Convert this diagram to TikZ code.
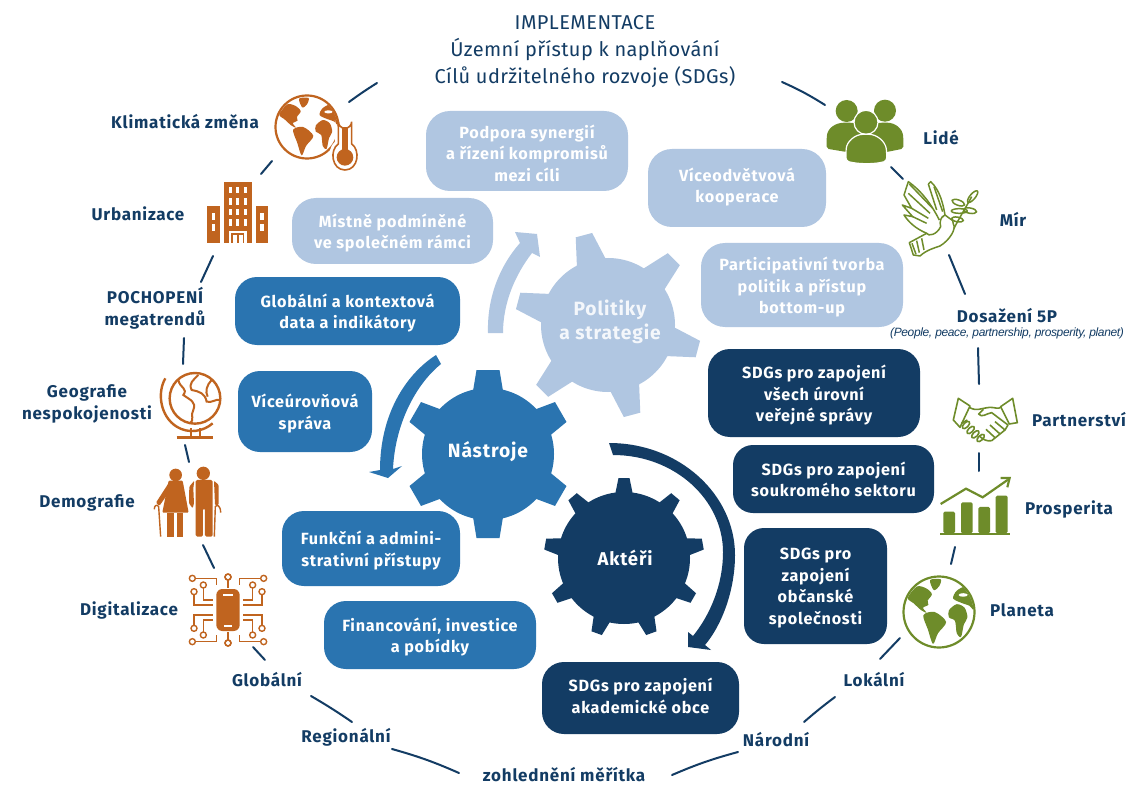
\documentclass[tikz,border=0pt]{standalone}
\usepackage{fontspec}
\setmainfont{Fira Sans}[LetterSpace=2,BoldFeatures={LetterSpace=4.5}]
\newfontfamily\smallit{Liberation Sans}[LetterSpace=-3]
\usetikzlibrary{calc}
\definecolor{lightb}{HTML}{B0C6E1}
\definecolor{midb}{HTML}{2A74B0}
\definecolor{darkb}{HTML}{133C64}
\definecolor{orng}{HTML}{C0641F}
\definecolor{grn}{HTML}{6E8C2A}
\definecolor{ptext}{HTML}{F4F7FB}
\tikzset{
 x=1pt,y=-1pt,
 pill/.style={inner sep=0pt},
 pilltxt/.style={inner sep=0pt,text=white,align=center,font=\fontsize{16.2}{21.5}\selectfont\bfseries},
 lab/.style={text=darkb,align=center,font=\fontsize{17}{22}\selectfont\bfseries,inner sep=0pt},
 ttl/.style={text=darkb,align=center,font=\fontsize{20}{27}\selectfont,inner sep=0pt},
 gearlab/.style={text=white,align=center,font=\fontsize{19.2}{24}\selectfont\bfseries,inner sep=0pt},
 ring/.style={draw=darkb,line width=2pt,line cap=round},
 ico/.style={x=0.3333pt,y=-0.3333pt},
}
\newcommand{\pilloff}{-2.2}
% box name, x1,y1,x2,y2, colour, radius, text
\newcommand{\pillbox}[8]{%
 \node[pill,fill=#6,rounded corners=#7pt,minimum width=#4pt-#2pt,minimum height=#5pt-#3pt] (#1) at ({(#2+#4)/2},{(#3+#5)/2}) {};
 \node[pilltxt] (#1t) at ([yshift=\pilloff pt]#1.center) {#8};}
% cx cy r tip basehalf tiphalf angles colour
\newcommand{\mygear}[8]{%
 \begin{scope}[shift={(#1,#2)},x=1pt,y=1pt]
 \fill[#8] (0,0) circle (#3);
 \foreach \a in {#7}{\fill[#8,rotate=\a] (#3-3,-#5) -- (#4,-#6) -- (#4,#6) -- (#3-3,#5) -- cycle;}
 \end{scope}}
% cx cy r colour (relative continents)
\newcommand{\myglobe}[4]{%
 \begin{scope}[shift={(#1,#2)},x=#3pt,y=-#3pt]
 \fill[white] (0,0) circle (1);
 \begin{scope}
 \clip (0,0) circle (0.97);
 \fill[#4] plot[smooth cycle,tension=.5] coordinates {(-.88,-.40)(-.62,-.72)(-.35,-.66)(-.2,-.5)(-.32,-.32)(-.3,-.2)(-.45,-.12)(-.35,.02)(-.5,-.05)(-.72,-.25)};
 \fill[#4] plot[smooth cycle,tension=.5] coordinates {(-.25,-.9)(.05,-.92)(0,-.72)(-.15,-.62)};
 \fill[#4] plot[smooth cycle,tension=.5] coordinates {(-.44,.09)(-.12,0)(.2,.28)(-.03,.6)(-.17,.9)(-.31,.5)};
 \fill[#4] plot[smooth cycle,tension=.5] coordinates {(.28,-.05)(.5,-.22)(.72,-.12)(.8,.15)(.7,.35)(.62,.7)(.5,.6)(.45,.25)(.28,.15)};
 \fill[#4] plot[smooth cycle,tension=.5] coordinates {(.4,-.38)(.5,-.6)(.78,-.72)(1,-.45)(1,-.05)(.85,-.18)(.65,-.25)};
 \fill[white] (.68,-.48) ellipse (.13 and .05);
 \end{scope}
 \draw[#4,line width=2.2pt] (0,0) circle (1);
 \end{scope}}
\begin{document}
\begin{tikzpicture}
\useasboundingbox (0,0) rectangle (1129,786);
\fill[white] (0,0) rectangle (1129,786);

% ---------- ring segments
\foreach \i/\ax/\ay/\bx/\by/\bnd in {
 1/349/102/377/83/2, 2/272/161/261/174/0, 3/213/256/201/282/0, 4/184/338/183/364/0,
 5/185/445/189/462/0, 6/203/545/214/568/0, 7/253/647/265/660/0, 8/311/696/352/722/2,
 9/392/749/459/773/4, 10/672/775/738/752/4, 11/804/722/835/697/2, 12/880/659/900/638/0,
 13/955/547/951/564/0, 14/979/453/979/471/0, 15/978/348/979/384/0, 16/949/255/965/294/0,
 17/891/167/903/179/0, 18/782/82/825/105/4}{
 \coordinate (sa\i) at (\ax,\ay);
 \coordinate (sb\i) at (\bx,\by);
 \draw[ring] (sa\i) to[bend left=\bnd] (sb\i);
}

% ---------- gears
\mygear{608}{325}{67}{93}{15}{8.5}{105,45,-15,-75,-135,165}{lightb}
\mygear{488}{454}{66}{84}{15}{11.5}{90,30,-30,-90,-150,150}{midb}
\mygear{624}{558}{66}{80}{9}{5.5}{90,50,10,-30,-70,-110,-150,170,130}{darkb}
\node[gearlab,text=ptext] (gpol) at (610,322) {Politiky\\a strategie};
\node[gearlab] (gnas) at (488,452) {Nástroje};
\node[gearlab,font=\fontsize{18.5}{22}\selectfont\bfseries] (gakt) at (625,558) {Aktéři};

% ---------- curved arrows
\fill[lightb] (488,333) .. controls (487,300) and (498,268) .. (520,243) -- (515,232) -- (537,234) -- (540,257) -- (532,253)
  .. controls (515,275) and (503,303) .. (503,333) -- cycle;
\fill[midb] (436,355) .. controls (405,375) and (380,415) .. (380,470) -- (369,472) -- (388,478) -- (402,466) -- (393,469)
  .. controls (395,425) and (415,385) .. (441,364) -- cycle;
\fill[darkb] (609,443) .. controls (680,443) and (735,495) .. (735,555) .. controls (735,590) and (722,625) .. (705,645)
  -- (711,650) -- (688,647) -- (688,632) -- (693,636) .. controls (710,615) and (723,585) .. (723,552)
  .. controls (723,500) and (675,455) .. (613,455) -- cycle;

% ---------- boxes
\pillbox{p1}{426}{111}{628}{191}{lightb}{24}{Podpora synergií\\a řízení kompromisů\\mezi cíli}
\renewcommand{\pilloff}{1}
\pillbox{p2}{648}{149}{826}{227}{lightb}{24}{Víceodvětvová\\kooperace}
\renewcommand{\pilloff}{-2.2}
\pillbox{p3}{292}{198}{493}{264}{lightb}{24}{Místně podmíněné\\ve společném rámci}
\pillbox{p4}{701}{243}{903}{327}{lightb}{24}{Participativní tvorba\\politik a přístup\\bottom-up}
\pillbox{m1}{235}{277}{460}{345}{midb}{22}{Globální a kontextová\\data a indikátory}
\pillbox{m2}{238}{371}{372}{452}{midb}{22}{Víceúrovňová\\správa}
\pillbox{m3}{282}{511}{460}{586}{midb}{22}{Funkční a admini-\\strativní přístupy}
\pillbox{m4}{324}{601}{536}{669}{midb}{22}{Financování, investice\\a pobídky}
\pillbox{d1}{708}{349}{920}{437}{darkb}{22}{SDGs pro zapojení\\všech úrovní\\veřejné správy}
\renewcommand{\pilloff}{-0.2}
\pillbox{d2}{733}{445}{934}{513}{darkb}{20}{SDGs pro zapojení\\soukromého sektoru}
\renewcommand{\pilloff}{-2.2}
\pillbox{d3}{744}{528}{887}{644}{darkb}{20}{SDGs pro\\zapojení\\občanské\\společnosti}
\renewcommand{\pilloff}{2}
\pillbox{d4}{542}{662}{739}{734}{darkb}{22}{SDGs pro zapojení\\akademické obce}

% ---------- title and labels
\node[ttl] (title) at (585,52) {IMPLEMENTACE\\Územní přístup k naplňování\\Cílů udržitelného rozvoje (SDGs)};
\node[lab] (lklim) at (185,122) {Klimatická změna};
\node[lab] (lurb) at (138,214) {Urbanizace};
\node[lab] (lpoch) at (155,308) {POCHOPENÍ\\megatrendů};
\node[lab] (lgeo) at (87,404) {Geografie\\nespokojenosti};
\node[lab] (ldem) at (87,503) {Demografie};
\node[lab] (ldig) at (129,610) {Digitalizace};
\node[lab] (lglo) at (267,680) {Globální};
\node[lab] (lreg) at (346,737) {Regionální};
\node[lab] (lmer) at (564,775) {zohlednění měřítka};
\node[lab] (lnar) at (776,740) {Národní};
\node[lab] (llok) at (874,680) {Lokální};
\node[lab] (lpla) at (1022,610) {Planeta};
\node[lab] (lpro) at (1069,509) {Prosperita};
\node[lab] (lpar) at (1079,420) {Partnerství};
\node[lab] (ldos) at (1007,316) {Dosažení 5P};
\node[text=darkb,inner sep=0pt,font=\smallit\fontsize{12}{14}\selectfont\itshape] (lppl) at (1007,333) {(People, peace, partnership, prosperity, planet)};
\node[lab] (lmir) at (1013,219) {Mír};
\node[lab] (llid) at (941,138) {Lidé};

% ---------- climate globe + thermometer
\myglobe{307}{127}{31.5}{orng}
\begin{scope}[shift={(80,70)},ico]
 \fill[white] (765,150) arc[start angle=180,end angle=0,radius=30] -- (825,215)
   .. controls (855,240) and (845,312) .. (795,312) .. controls (745,312) and (735,240) .. (765,215) -- cycle;
 \fill[white,draw=orng,line width=1.6pt] (775,155) arc[start angle=180,end angle=0,radius=20] -- (815,222)
   .. controls (842,240) and (835,300) .. (795,300) .. controls (755,300) and (748,240) .. (775,222) -- cycle;
 \fill[orng] (795,262) circle (25);
 \fill[orng] (787,170) rectangle (803,245);
\end{scope}

% ---------- buildings
\begin{scope}[shift={(80,70)},ico]
 \fill[orng] (432,335) rectangle (515,518);
 \fill[orng] (380,407) rectangle (421,518);
 \fill[orng] (527,407) rectangle (565,518);
 \foreach \yy in {350,384,416,448}{
  \foreach \xx in {447,469,491}{\fill[white] (\xx,\yy) rectangle +(9,20);}}
 \foreach \yy in {430,462}{\fill[white] (396,\yy) rectangle +(10,20);\fill[white] (541,\yy) rectangle +(10,20);}
 \fill[white] (447,482) rectangle (500,518);
 \fill[orng] (454,490) rectangle (493,518);
 \fill[white] (459,494) rectangle (471,518);
 \fill[white] (476,494) rectangle (488,518);
\end{scope}

% ---------- school globe
\begin{scope}[shift={(30,360)},ico]
 \draw[orng,line width=2.4pt] (495,115) circle (76);
 \draw[orng,line width=2.4pt] (406,55) .. controls (380,100) and (392,170) .. (440,200) .. controls (475,222) and (520,215) .. (548,190);
 \draw[orng,line width=2.4pt] (483,205) -- (483,232) (510,205) -- (510,232);
 \draw[orng,line width=2.8pt] (440,232) -- (548,232);
 \draw[orng,line width=2pt] (445,60) .. controls (450,85) and (475,85) .. (460,105) .. controls (480,120) and (500,125) .. (490,150) .. controls (480,165) and (495,180) .. (480,190);
 \draw[orng,line width=2pt] (505,45) .. controls (490,60) and (475,70) .. (485,90) .. controls (510,95) and (525,100) .. (530,125) .. controls (545,130) and (560,115) .. (570,120);
 \draw[orng,line width=2pt] (545,60) .. controls (530,75) and (525,95) .. (533,110);
\end{scope}

% ---------- elderly couple
\begin{scope}[shift={(30,360)},ico]
 \fill[orng] (437,345) circle (19);
 \fill[orng] (520,340) circle (20);
 \fill[orng,rounded corners=1pt] (416,362) -- (458,362) -- (476,458) -- (397,458) -- cycle;
 \fill[orng] (412,458) rectangle (431,530);
 \fill[orng] (440,458) rectangle (459,530);
 \fill[orng,rounded corners=1pt] (418,366) -- (378,428) -- (388,438) -- (425,385) -- cycle;
 \draw[orng,line width=1.4pt] (373,448) .. controls (372,436) and (382,432) .. (386,440) -- (392,530);
 \fill[orng,rounded corners=1.5pt] (497,360) -- (548,360) -- (548,530) -- (525,530) -- (525,445) -- (519,445) -- (519,530) -- (497,530) -- cycle;
 \fill[orng,rounded corners=1pt] (552,362) -- (566,375) -- (566,435) -- (555,435) -- (553,385) -- cycle;
 \fill[orng,rounded corners=1pt] (493,362) -- (478,380) -- (477,430) -- (488,445) -- (492,430) -- (490,385) -- cycle;
 \draw[orng,line width=1.4pt] (572,458) .. controls (572,436) and (560,432) .. (556,440) -- (553,530);
\end{scope}

% ---------- digital chip
\begin{scope}[shift={(228,610)},ico]
 \foreach \sx in {-1,1}{\foreach \sy in {-1,1}{
  \begin{scope}[xscale=\sx,yscale=\sy]
   \draw[orng,line width=1.6pt] (-97,-95) -- (-34,-95) -- (-34,-75);
   \draw[orng,line width=1.6pt] (-74,-66) -- (-74,-30) -- (-44,-30);
   \draw[orng,line width=1.6pt] (-102,-46) -- (-102,-15) -- (-44,-15);
   \draw[orng,line width=1.6pt] (0,-90) -- (0,-65);
   \draw[orng,line width=1.4pt] (-107,-95) circle (9) (-74,-75) circle (9) (-102,-55) circle (9) (0,-99) circle (9);
  \end{scope}}}
 \fill[orng,rounded corners=6pt] (-35,-63) rectangle (35,63);
 \fill[white] (-16,-47) rectangle (16,-43);
 \fill[white] (-12,46) rectangle (12,51);
\end{scope}

% ---------- people
\begin{scope}[shift={(780,80)},ico]
 \fill[grn] (200,93) circle (33);
 \fill[grn] (315,92) circle (33);
 \fill[grn,rounded corners=2pt] (140,206) -- (140,175) .. controls (142,145) and (165,128) .. (200,128) .. controls (235,128) and (255,140) .. (262,165) -- (262,220) -- (200,216) -- cycle;
 \fill[grn,rounded corners=2pt] (370,206) -- (370,175) .. controls (368,145) and (345,128) .. (315,128) .. controls (285,128) and (262,140) .. (255,165) -- (255,220) -- (320,216) -- cycle;
 \fill[grn,draw=white,line width=1.2pt] (258,127) circle (36);
 \fill[grn,draw=white,line width=1.2pt,rounded corners=3pt] (198,243) -- (198,215) .. controls (200,185) and (225,163) .. (258,163) .. controls (291,163) and (316,185) .. (320,215) -- (320,243) .. controls (285,253) and (235,253) .. (198,243) -- cycle;
\end{scope}

% ---------- dove
\begin{scope}[shift={(780,80)},ico,grn,line width=1.5pt,line join=round]
 \draw (388,488) -- (440,460) .. controls (445,470) and (470,465) .. (482,440) .. controls (478,425) and (482,410) .. (495,405) -- (518,422) -- (520,432) .. controls (530,445) and (510,480) .. (480,498) .. controls (460,505) and (440,510) .. (420,528) -- (400,525) -- cycle;
 \draw (396,490) -- (408,523) (410,482) -- (418,518) (425,475) -- (432,510);
 \draw (440,460) .. controls (405,445) and (385,425) .. (372,405) -- (398,410) -- (367,375) -- (395,385) -- (372,345) -- (385,305) .. controls (420,330) and (450,365) .. (478,420);
 \draw (398,410) -- (440,430) (395,385) -- (445,415) (385,340) -- (450,400) (388,312) -- (458,385);
 \draw (445,312) -- (452,305) .. controls (480,330) and (490,375) .. (495,405);
 \draw (462,320) -- (488,395);
 \draw (445,312) -- (470,390);
 \draw (522,445) .. controls (540,410) and (565,370) .. (575,350);
 \draw[rotate around={50:(578,350)}] (578,350) ellipse (22 and 8);
 \draw[rotate around={-20:(535,368)}] (535,368) ellipse (20 and 8);
 \draw (538,393) ellipse (24 and 7);
 \draw[rotate around={-10:(570,392)}] (570,392) ellipse (20 and 8);
 \draw[rotate around={-10:(530,415)}] (533,418) ellipse (18 and 7);
 \fill (490,410) circle (2.5);
\end{scope}

% ---------- handshake
\begin{scope}[shift={(880,370)},ico,grn,line width=1.6pt,line join=round]
 \draw (235,85) -- (270,108) -- (240,172) -- (220,150) -- cycle;
 \draw (398,85) -- (362,110) -- (388,162) -- (412,158) -- cycle;
 \draw (268,112) .. controls (290,125) and (300,115) .. (330,112) .. controls (345,112) and (355,118) .. (362,112);
 \draw (310,118) -- (296,132) .. controls (305,145) and (320,130) .. (335,128) -- (384,165) -- (375,180) -- (335,212) .. controls (320,215) and (310,208) .. (300,200);
 \draw (244,160) -- (262,150);
 \draw (375,180) -- (345,155) (360,192) -- (330,165) (345,203) -- (318,178);
 \foreach \px/\py in {258/165, 272/180, 286/193, 302/204}{
  \draw[rotate around={45:(\px,\py)}] (\px,\py) ellipse (14 and 7);}
\end{scope}

% ---------- prosperity
\begin{scope}[shift={(880,370)},ico]
 \fill[grn,rounded corners=1.5pt] (190,490) -- (190,425) -- (225,425) -- (225,490) -- cycle;
 \fill[grn,rounded corners=1.5pt] (243,490) -- (243,397) -- (278,397) -- (278,490) -- cycle;
 \fill[grn,rounded corners=1.5pt] (295,490) -- (295,411) -- (330,411) -- (330,490) -- cycle;
 \fill[grn,rounded corners=1.5pt] (347,490) -- (347,377) -- (383,377) -- (383,490) -- cycle;
 \fill[grn] (180,488) rectangle (391,496);
 \draw[grn,line width=2.2pt] (182,402) -- (258,356) -- (308,382) -- (384,329);
 \draw[grn,line width=2.2pt] (362,324) -- (389,324) -- (382,352);
\end{scope}

% ---------- planet
\myglobe{939}{612}{35.5}{grn}
\end{tikzpicture}
\end{document}
